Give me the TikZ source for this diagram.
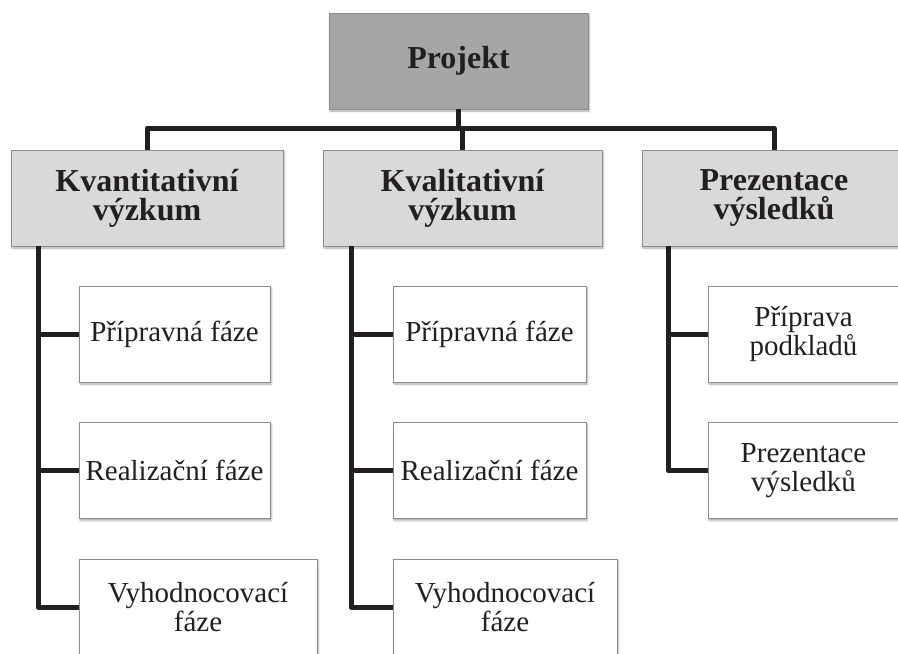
\documentclass[tikz,border=0pt]{standalone}
\usepackage{fontspec}
\setmainfont{Liberation Serif}
\usetikzlibrary{shadows.blur}

\definecolor{topfill}{HTML}{A6A6A6}
\definecolor{midfill}{HTML}{D9D9D9}
\definecolor{boxline}{HTML}{8C8C8C}
\definecolor{linkcol}{HTML}{231F20}

\tikzset{
  box/.style={draw=boxline, line width=0.8pt, rectangle, align=center,
    inner sep=0pt, text=linkcol,
    blur shadow={shadow xshift=1.2pt, shadow yshift=-2pt,
      shadow blur radius=2pt, shadow opacity=35}},
  rootbox/.style={box, fill=topfill, minimum width=259pt, minimum height=96pt,
    font=\fontsize{32}{29}\selectfont\bfseries},
  groupbox/.style={box, fill=midfill, minimum height=96pt,
    font=\fontsize{32}{29}\selectfont\bfseries},
  taskbox/.style={box, fill=white, minimum height=96pt,
    font=\fontsize{29}{29}\selectfont},
  conn/.style={draw=linkcol, line width=5pt, line join=round}
}

\begin{document}
\begin{tikzpicture}[x=1pt,y=-1pt]
  \useasboundingbox (0,0) rectangle (898,654);
  \clip (0,0) rectangle (898,654);

  % top level
  \node[rootbox] (proj) at (458.5,61) {Projekt};

  % second level
  \node[groupbox, minimum width=272pt] (kvant) at (147,198) {Kvantitativní\\výzkum};
  \node[groupbox, minimum width=279pt] (kval)  at (462.5,198) {Kvalitativní\\výzkum};
  \node[groupbox, minimum width=264pt] (prez)  at (774,198) {Prezentace\\výsledků};

  % tasks: quantitative research
  \node[taskbox, minimum width=191pt] (a1) at (174.5,334) {Přípravná fáze};
  \node[taskbox, minimum width=191pt] (a2) at (174.5,470.5) {Realizační fáze};
  \node[taskbox, minimum width=238pt] (a3) at (198,607) {Vyhodnocovací\\fáze};

  % tasks: qualitative research
  \node[taskbox, minimum width=193pt] (b1) at (489.5,334) {Přípravná fáze};
  \node[taskbox, minimum width=193pt] (b2) at (489.5,470.5) {Realizační fáze};
  \node[taskbox, minimum width=224pt] (b3) at (505,607) {Vyhodnocovací\\fáze};

  % tasks: presentation
  \node[taskbox, minimum width=191pt] (c1) at (803.5,334) {Příprava\\podkladů};
  \node[taskbox, minimum width=191pt] (c2) at (803.5,470.5) {Prezentace\\výsledků};

  % connectors between levels
  \coordinate (bus) at (0,128);
  \draw[conn] (kvant.north) -- (kvant.north |- bus) -- (prez.north |- bus) -- (prez.north);
  \draw[conn] (proj.south) -- (proj.south |- bus);
  \draw[conn] (kval.north) -- (kval.north |- bus);

  % branch spines
  \coordinate (sa) at (38,246);
  \coordinate (sb) at (351,246);
  \coordinate (sc) at (668,246);

  \draw[conn] (sa) |- (a3.west);
  \draw[conn] (sa |- a1.west) -- (a1.west);
  \draw[conn] (sa |- a2.west) -- (a2.west);

  \draw[conn] (sb) |- (b3.west);
  \draw[conn] (sb |- b1.west) -- (b1.west);
  \draw[conn] (sb |- b2.west) -- (b2.west);

  \draw[conn] (sc) |- (c2.west);
  \draw[conn] (sc |- c1.west) -- (c1.west);
\end{tikzpicture}
\end{document}
